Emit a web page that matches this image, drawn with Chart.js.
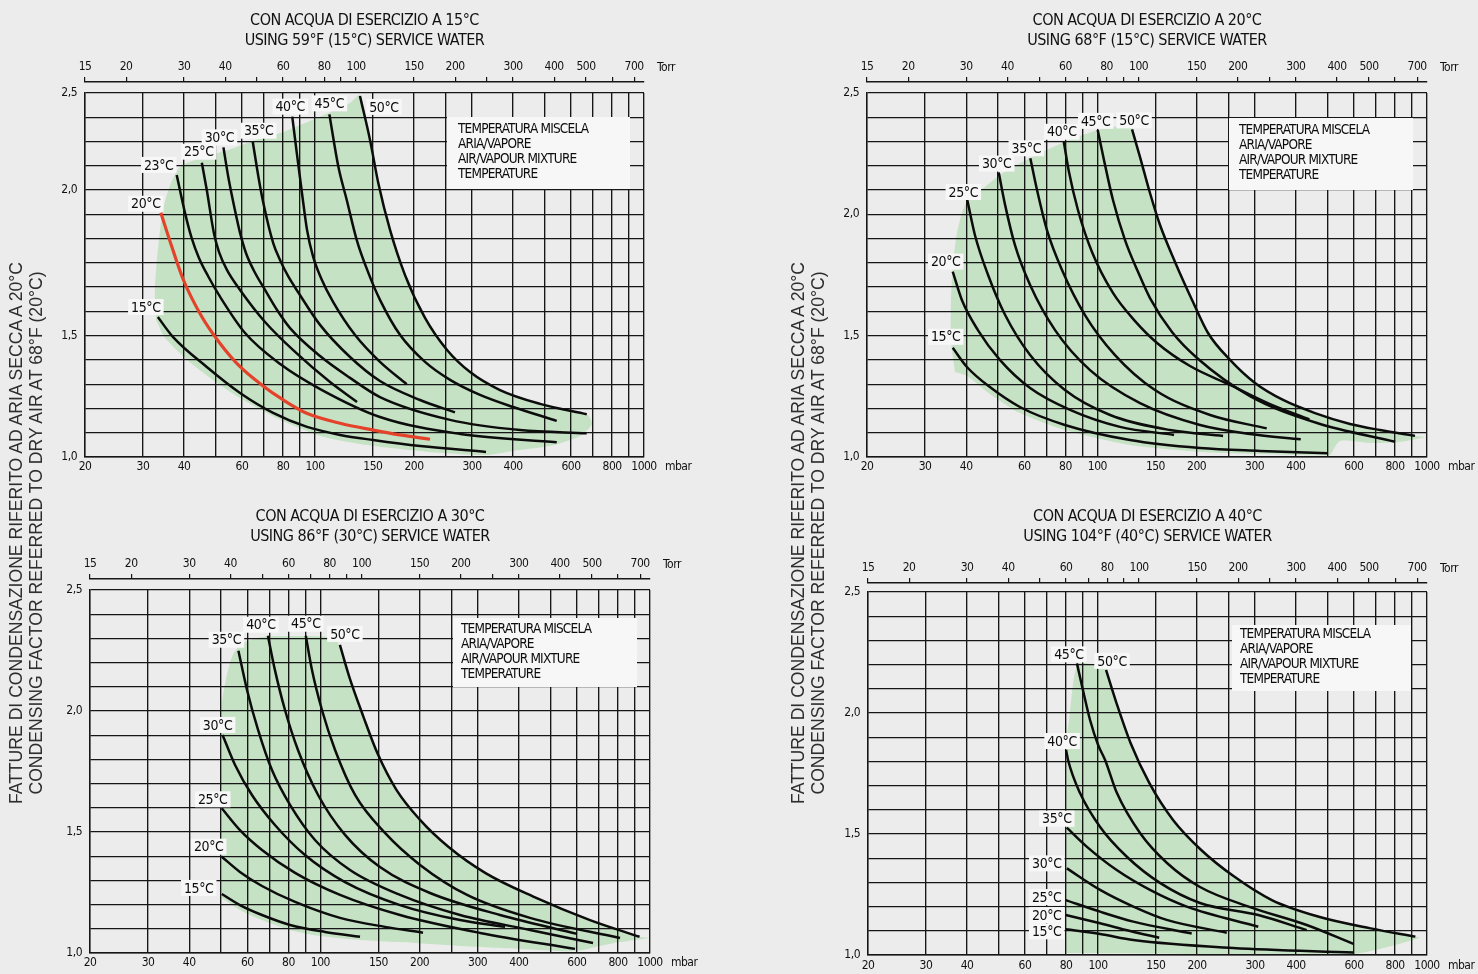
<!DOCTYPE html>
<html>
<head>
<meta charset="utf-8">
<script src="https://cdn.jsdelivr.net/npm/chart.js@4/dist/chart.umd.min.js"></script>
<style>
html,body{margin:0;padding:0;width:1478px;height:974px;overflow:hidden;background:#ececec;}
canvas{position:absolute;}
.ytitle{position:absolute;width:700px;height:40px;line-height:20px;font-size:17.6px;font-family:'Liberation Sans',Arial,sans-serif;color:#2e2e2e;text-align:center;transform:rotate(-90deg);white-space:nowrap;}
</style>
</head>
<body>
<canvas id="c1" width="740" height="490" style="left:0;top:0"></canvas>
<canvas id="c2" width="738" height="490" style="left:740px;top:0"></canvas>
<canvas id="c3" width="740" height="484" style="left:0;top:490px"></canvas>
<canvas id="c4" width="738" height="484" style="left:740px;top:490px"></canvas>
<div class="ytitle" style="left:-324px;top:513px">FATTURE DI CONDENSAZIONE RIFERITO AD ARIA SECCA A 20°C<br>CONDENSING FACTOR REFERRED TO DRY AIR AT 68°F (20°C)</div>
<div class="ytitle" style="left:458px;top:513px">FATTURE DI CONDENSAZIONE RIFERITO AD ARIA SECCA A 20°C<br>CONDENSING FACTOR REFERRED TO DRY AIR AT 68°F (20°C)</div>
<script>
// ---------------- axis / tick data ----------------
const MBAR_GRID = [20,30,40,50,60,70,80,90,100,150,200,250,300,400,500,600,700,800,900,1000];
const MBAR_LABELS = [20,30,40,60,80,100,150,200,300,400,600,800,1000];
const TORR_GRID = [15,20,30,40,50,60,70,80,90,100,150,200,250,300,400,500,600,700];
const TORR_LABELS = [15,20,30,40,60,80,100,150,200,300,400,500,700];
const MBAR_PER_TORR = 1.33322;
const Y_LABELS = [1.0,1.5,2.0,2.5];
const Y_GRID = [1.0,1.1,1.2,1.3,1.4,1.5,1.6,1.7,1.8,1.9,2.0,2.1,2.2,2.3,2.4,2.5];
const Y_GRID_P1 = [1.0,1.1,1.2,1.3,1.4,1.5,1.5833,1.6667,1.75,1.8333,1.9167,2.0,2.125,2.25,2.375,2.5];
const Y_BREAKS_P1 = [[1.0,0],[1.5,5/15],[2.0,11/15],[2.5,1]];
const Y_BREAKS = [[1.0,0],[2.5,1]];
const LEGEND_LINES = ['TEMPERATURA MISCELA','ARIA/VAPORE','AIR/VAPOUR MIXTURE','TEMPERATURE'];

const TITLE_P1 = ['CON ACQUA DI ESERCIZIO A 15°C','USING 59°F (15°C) SERVICE WATER'];
const TITLE_P2 = ['CON ACQUA DI ESERCIZIO A 20°C','USING 68°F (15°C) SERVICE WATER'];
const TITLE_P3 = ['CON ACQUA DI ESERCIZIO A 30°C','USING 86°F (30°C) SERVICE WATER'];
const TITLE_P4 = ['CON ACQUA DI ESERCIZIO A 40°C','USING 104°F (40°C) SERVICE WATER'];

const NAMES_P1 = ['15°C','20°C','23°C','25°C','30°C','35°C','40°C','45°C','50°C'];
const NAMES = ['15°C','20°C','25°C','30°C','35°C','40°C','45°C','50°C'];

// ---------------- panel 1 : service water 15°C ----------------
const P1_15 = [[33.3,1.564],[37.0,1.495],[46.9,1.371],[59.2,1.264],[74.6,1.182],[94.6,1.124],[119.3,1.091],[150.2,1.070],[208.8,1.045],[331,1.021]];
const P1_20 = [[34.0,1.922],[36.7,1.806],[39.8,1.692],[45.3,1.565],[51.4,1.469],[59.2,1.372],[68.9,1.297],[80.1,1.235],[94.4,1.180],[119.2,1.139],[150.4,1.111],[181.2,1.091],[223.7,1.073]];
const P1_23 = [[38.0,2.078],[40.3,1.920],[42.2,1.835],[44.4,1.767],[47.3,1.705],[51.5,1.633],[61.3,1.509],[78.4,1.383],[103.7,1.280],[157.6,1.165],[276.3,1.095],[543,1.061]];
const P1_25 = [[45.3,2.141],[46.9,2.000],[49.3,1.852],[51.1,1.787],[54.0,1.726],[59.2,1.657],[70.5,1.547],[87.0,1.433],[111.1,1.309],[134.2,1.227]];
const P1_30 = [[52.7,2.220],[54.5,2.069],[57.1,1.932],[59.2,1.853],[61.7,1.784],[65.3,1.722],[70.5,1.657],[76.7,1.588],[84.0,1.526],[103.6,1.416],[127.8,1.326],[157.6,1.247],[257.4,1.153],[420,1.111],[669.8,1.098]];
const P1_35 = [[64.7,2.249],[67.3,2.069],[69.7,1.955],[74.7,1.817],[78.3,1.760],[82.8,1.705],[88.8,1.650],[103.6,1.537],[127.8,1.412],[157.6,1.313],[208.6,1.235],[266.4,1.184]];
const P1_40 = [[85.3,2.378],[88.2,2.181],[91.3,1.990],[94.6,1.863],[98.6,1.773],[104.3,1.698],[113.5,1.616],[132.4,1.502],[157.6,1.392],[190,1.300]];
const P1_45 = [[110.6,2.390],[117.8,2.120],[124.9,1.966],[133.9,1.829],[144.9,1.719],[157.6,1.623],[181.5,1.502],[216.0,1.392],[257.4,1.318],[317.4,1.256],[400.0,1.206],[543,1.149]];
const P1_50 = [[137.0,2.485],[147.0,2.258],[155.8,2.035],[169.1,1.863],[187.8,1.708],[216.0,1.561],[252,1.441],[296.1,1.350],[365.0,1.276],[483.1,1.219],[669.8,1.176]];
const P1_AREA = [[32.9,1.554],[32.6,1.657],[33.3,1.794],[34.5,1.932],[36.3,2.026],[38.9,2.119],[46.0,2.170],[54.4,2.206],[66.2,2.258],[80.5,2.301],[98.0,2.361],[111.9,2.404],[127.8,2.449],[137.0,2.490],[147.0,2.258],[155.8,2.035],[169.1,1.863],[187.8,1.708],[216.0,1.561],[252,1.441],[296.1,1.350],[365.0,1.276],[483.1,1.219],[669.8,1.176],[695,1.136],[639,1.087],[518,1.046],[400,1.025],[331,1.008],[240,1.017],[181.5,1.033],[137,1.054],[103.7,1.087],[78.4,1.153],[59.2,1.243],[48.0,1.326],[40.3,1.408],[35.0,1.491],[32.9,1.554]];

// ---------------- panel 2 : service water 20°C ----------------
const P2_15 = [[36.4,1.450],[40.2,1.371],[47.2,1.288],[58.2,1.206],[79.7,1.132],[125.6,1.070],[204.8,1.037],[311.5,1.025],[500.8,1.015]];
const P2_20 = [[36.4,1.764],[38.8,1.647],[43.4,1.523],[50.6,1.400],[62.5,1.284],[82.6,1.194],[117.1,1.124],[170.8,1.091]];
const P2_25 = [[40.3,2.059],[42.5,1.915],[46.6,1.750],[52.5,1.585],[62.5,1.420],[79.7,1.276],[109.3,1.173],[166.1,1.111],[240.6,1.087]];
const P2_30 = [[50.2,2.172],[52.5,2.038],[56.2,1.874],[62.5,1.709],[74.4,1.523],[95.0,1.358],[134.7,1.222],[204.8,1.132],[290.4,1.095],[414.0,1.073]];
const P2_35 = [[62.6,2.231],[65.6,2.100],[70.3,1.935],[78.1,1.771],[91.7,1.585],[113.1,1.420],[149.5,1.276],[219.8,1.173],[326.4,1.118]];
const P2_40 = [[79.1,2.299],[82.0,2.174],[87.3,2.018],[96.3,1.845],[111.5,1.676],[130.1,1.560],[151.7,1.470],[191.0,1.375],[252.6,1.297],[334.0,1.218],[439.7,1.155]];
const P2_45 = [[100.2,2.348],[104.7,2.224],[111.5,2.059],[121.3,1.894],[132.9,1.762],[144.4,1.655],[168.4,1.515],[200.6,1.408],[290.4,1.251],[463.9,1.140],[799.8,1.063]];
const P2_50 = [[127.4,2.350],[134.7,2.236],[144.4,2.088],[154.9,1.956],[172.0,1.804],[195.0,1.639],[216.6,1.511],[252.6,1.400],[300.7,1.305],[365.9,1.235],[457.3,1.181],[584.1,1.136],[720.2,1.111],[919.6,1.087]];
const P2_AREA = [[36.98,1.350],[35.96,1.482],[35.96,1.647],[36.5,1.791],[37.5,1.923],[39.96,2.047],[45.6,2.113],[51.7,2.170],[63.3,2.236],[82.0,2.306],[100.4,2.348],[113.9,2.362],[127.4,2.356],[134.7,2.236],[144.4,2.088],[154.9,1.956],[172.0,1.804],[195.0,1.639],[216.6,1.511],[252.6,1.400],[300.7,1.305],[365.9,1.235],[457.3,1.181],[584.1,1.136],[720.2,1.111],[919.6,1.087],[986.4,1.082],[828.2,1.062],[671.6,1.058],[544.7,1.066],[515,1.020],[507.8,1.008],[411.9,1.008],[311.5,1.012],[204.8,1.021],[125.6,1.049],[79.7,1.111],[58.2,1.181],[47.2,1.260],[40.2,1.334],[36.98,1.350]];

// ---------------- panel 3 : service water 30°C ----------------
const P3_15 = [[50.2,1.244],[57.0,1.198],[66.5,1.157],[80.9,1.116],[103.3,1.087],[131.9,1.067]];
const P3_20 = [[50.2,1.398],[57.0,1.335],[66.5,1.277],[83.8,1.211],[114.7,1.145],[157.0,1.108],[204.8,1.084]];
const P3_25 = [[50.2,1.598],[57.0,1.508],[66.5,1.426],[83.8,1.331],[114.7,1.240],[174.4,1.157],[305.1,1.083],[592.2,1.017]];
const P3_30 = [[50.5,1.901],[55.1,1.777],[62.0,1.653],[72.8,1.529],[89.8,1.405],[118.8,1.293],[174.4,1.198],[265.3,1.136],[363.3,1.108]];
const P3_35 = [[56.4,2.249],[59.9,2.087],[64.7,1.922],[71.3,1.756],[80.9,1.612],[96.3,1.467],[123.0,1.343],[174.4,1.240],[265.3,1.157],[432.5,1.095],[671.6,1.041]];
const P3_40 = [[69.3,2.311],[72.8,2.169],[78.1,2.004],[85.5,1.839],[98.4,1.653],[118.8,1.488],[151.6,1.355],[215.1,1.248],[350.8,1.157],[600.6,1.079]];
const P3_45 = [[90.3,2.311],[94.3,2.169],[101.1,2.004],[110.8,1.839],[127.4,1.653],[157.0,1.496],[200.6,1.364],[278.6,1.240],[432.5,1.145],[811.0,1.062]];
const P3_50 = [[114.6,2.273],[122.3,2.142],[135.1,1.976],[149.0,1.825],[170.1,1.674],[200.6,1.550],[244.4,1.439],[318.0,1.329],[442.6,1.233],[657.6,1.136],[929.7,1.067]];
const P3_AREA = [[50.2,1.227],[50.2,2.018],[51.9,2.142],[54.5,2.238],[59.2,2.286],[67.6,2.307],[77.0,2.310],[103.7,2.307],[112.6,2.286],[122.3,2.142],[135.1,1.976],[149.0,1.825],[170.1,1.674],[200.6,1.550],[244.4,1.439],[318.0,1.329],[442.6,1.233],[657.6,1.136],[929.7,1.067],[986.4,1.062],[811.0,1.045],[705.3,1.029],[592.2,1.008],[403.4,1.017],[265.3,1.029],[174.4,1.045],[131.9,1.054],[99.8,1.070],[80.9,1.095],[66.5,1.136],[57.0,1.178],[50.2,1.227]];

// ---------------- panel 4 : service water 40°C ----------------
const P4_15 = [[79.8,1.106],[101.5,1.087],[128.1,1.062],[257.4,1.029],[597.3,1.010]];
const P4_20 = [[79.8,1.165],[101.5,1.131],[125.2,1.099],[153.5,1.071]];
const P4_25 = [[79.8,1.227],[101.5,1.179],[128.1,1.138],[192.7,1.089]];
const P4_30 = [[80.4,1.358],[101.5,1.269],[128.1,1.200],[161.7,1.145],[246.3,1.092]];
const P4_35 = [[80.4,1.526],[92.4,1.448],[114.0,1.351],[143.9,1.269],[186.1,1.200],[307.1,1.117]];
const P4_40 = [[80.0,1.847],[81.1,1.806],[88.2,1.669],[101.5,1.529],[122.6,1.405],[154.3,1.298],[204.2,1.215],[307.1,1.165],[430.9,1.103]];
const P4_45 = [[86.3,2.205],[90.0,2.095],[94.6,1.971],[100.1,1.868],[105.1,1.806],[114.2,1.669],[134.2,1.504],[162.1,1.380],[204.2,1.281],[289.8,1.198],[430.9,1.124],[597.3,1.046]];
const P4_50 = [[105.8,2.178],[113.9,2.040],[125.7,1.875],[143.3,1.710],[169.1,1.558],[205.9,1.434],[259.4,1.324],[337.6,1.227],[469.2,1.158],[674.2,1.110],[921.8,1.076]];
const P4_AREA = [[80.0,1.008],[80.0,1.723],[80.0,1.876],[81.9,1.985],[84.6,2.150],[87.5,2.205],[93.3,2.205],[102.9,2.191],[105.8,2.178],[113.9,2.040],[125.7,1.875],[143.3,1.710],[169.1,1.558],[205.9,1.434],[259.4,1.324],[337.6,1.227],[469.2,1.158],[674.2,1.110],[921.8,1.076],[952.3,1.070],[596.1,1.004],[204.2,1.004],[80.0,1.008]];

// ---------------- layout / styling (not data) ----------------
const FONT_N = "'DejaVu Sans Condensed','DejaVu Sans',sans-serif";
const GREEN = '#c6e2c4';
const GRID = '#161616';
const INK = '#0c0c0c';
const RED = '#e4432b';
const PAPER = '#f7f7f7';

const P1_LABEL_POS = [[-12,-10],[-15,-9],[-18,-10],[-3,-11],[-4,-10],[6,-11],[-2,-10],[0,-11],[24,11]];
const P2_LABEL_POS = [[-7,-11],[-7,-10],[-4,-8],[-2,-9],[-4,-10],[-2,-10],[-2,-9],[2,-9]];
const P3_LABEL_POS = [[-23,-6],[-13,-10],[-9,-9],[-5,-10],[-12,-11],[-7,-11],[0,-12],[5,-11]];
const P4_LABEL_POS = [[-19,2],[-19,0],[-19,-3],[-20,-5],[-10,-9],[-4,-9],[-8,-9],[6,-9]];

function curves(names, arrays, redIndex) {
  return names.map((n, i) => ({name: n, data: arrays[i], color: i === redIndex ? RED : INK, width: i === redIndex ? 3.2 : 2.5}));
}

const PANELS = {
  c1: {title: TITLE_P1, titleTop: 11, torrH: 42, torrShift: 11, pad: {left: 45, right: 96, top: 0, bottom: 0}, xH: 33, xPad: 3,
       yGrid: Y_GRID_P1, breaks: Y_BREAKS_P1, area: P1_AREA,
       curves: curves(NAMES_P1, [P1_15,P1_20,P1_23,P1_25,P1_30,P1_35,P1_40,P1_45,P1_50], 1), labelPos: P1_LABEL_POS,
       box: {r: 14, w: 183, t: 24, h: 72, tx: 11, ty: 12}},
  c2: {title: TITLE_P2, titleTop: 11, torrH: 42, torrShift: 11, pad: {left: 87, right: 51, top: 0, bottom: 0}, xH: 33, xPad: 3,
       yGrid: Y_GRID, breaks: Y_BREAKS, area: P2_AREA,
       curves: curves(NAMES, [P2_15,P2_20,P2_25,P2_30,P2_35,P2_40,P2_45,P2_50], -1), labelPos: P2_LABEL_POS,
       box: {r: 14, w: 184, t: 25, h: 72, tx: 10, ty: 12}},
  c3: {title: TITLE_P3, titleTop: 17, torrH: 43, torrShift: 11, pad: {left: 50, right: 90, top: 0, bottom: 0}, xH: 21, xPad: 3,
       yGrid: Y_GRID, breaks: Y_BREAKS, area: P3_AREA,
       curves: curves(NAMES, [P3_15,P3_20,P3_25,P3_30,P3_35,P3_40,P3_45,P3_50], -1), labelPos: P3_LABEL_POS,
       box: {r: 13, w: 184, t: 28, h: 69, tx: 8, ty: 11}},
  c4: {title: TITLE_P4, titleTop: 17, torrH: 45, torrShift: 9, pad: {left: 88, right: 51, top: 0, bottom: 0}, xH: 19, xPad: 4,
       yGrid: Y_GRID, breaks: Y_BREAKS, area: P4_AREA,
       curves: curves(NAMES, [P4_15,P4_20,P4_25,P4_30,P4_35,P4_40,P4_45,P4_50], -1), labelPos: P4_LABEL_POS,
       box: {r: 16, w: 179, t: 33, h: 66, tx: 8, ty: 9}}
};

// ---------------- piecewise-linear value axis ----------------
function pieceFrac(v, br) {
  for (let i = 1; i < br.length; i++) {
    if (v <= br[i][0] || i === br.length - 1) {
      const [v0, f0] = br[i - 1], [v1, f1] = br[i];
      return f0 + (v - v0) / (v1 - v0) * (f1 - f0);
    }
  }
  return 0;
}
function pieceInv(f, br) {
  for (let i = 1; i < br.length; i++) {
    if (f <= br[i][1] || i === br.length - 1) {
      const [v0, f0] = br[i - 1], [v1, f1] = br[i];
      return v0 + (f - f0) / (f1 - f0) * (v1 - v0);
    }
  }
  return 0;
}
class PiecewiseScale extends Chart.LinearScale {
  getPixelForValue(value) {
    if (value === null || value === undefined || isNaN(value)) return NaN;
    return this.getPixelForDecimal(pieceFrac(value, PANELS[this.chart.canvas.id].breaks));
  }
  getValueForPixel(pixel) {
    return pieceInv(this.getDecimalForPixel(pixel), PANELS[this.chart.canvas.id].breaks);
  }
}
PiecewiseScale.id = 'piecewise';
PiecewiseScale.defaults = {};
Chart.register(PiecewiseScale);

// ---------------- decorations plugin ----------------
function spaced(ctx, px) { if ('letterSpacing' in ctx) ctx.letterSpacing = px + 'px'; }
const decor = {
  id: 'decor',
  afterLayout(chart) {
    const p = PANELS[chart.canvas.id];
    const t = chart.scales.t;
    t.bottom -= p.torrShift;
    t._gridLineItems = null;
    t._labelItems = null;
  },
  beforeDraw(chart) {
    spaced(chart.ctx, -0.5);
  },
  afterDatasetsDraw(chart) {
    const p = PANELS[chart.canvas.id];
    const ctx = chart.ctx, xs = chart.scales.x, ys = chart.scales.y, ts = chart.scales.t, ca = chart.chartArea;
    ctx.save();
    ctx.textBaseline = 'middle';
    // curve labels
    ctx.font = '14px ' + FONT_N;
    spaced(ctx, -0.4);
    ctx.textAlign = 'center';
    p.curves.forEach((c, i) => {
      const cx = xs.getPixelForValue(c.data[0][0]) + p.labelPos[i][0];
      const cy = ys.getPixelForValue(c.data[0][1]) + p.labelPos[i][1];
      const w = ctx.measureText(c.name).width;
      ctx.fillStyle = PAPER;
      ctx.fillRect(cx - w / 2 - 3, cy - 8, w + 6, 16);
      ctx.fillStyle = INK;
      ctx.fillText(c.name, cx, cy + 1);
    });
    // legend box
    const b = p.box;
    const bx = ca.right - b.r - b.w, by = ca.top + b.t;
    ctx.fillStyle = PAPER;
    ctx.fillRect(bx, by, b.w, b.h);
    ctx.fillStyle = INK;
    ctx.textAlign = 'left';
    ctx.font = '13.5px ' + FONT_N;
    spaced(ctx, -0.8);
    LEGEND_LINES.forEach((s, k) => ctx.fillText(s, bx + b.tx, by + b.ty + k * 15));
    // unit labels
    ctx.font = '12px ' + FONT_N;
    spaced(ctx, -0.5);
    ctx.fillStyle = '#111';
    ctx.fillText('Torr', ca.right + 13, ts.bottom - 7 - 7);
    ctx.fillText('mbar', ca.right + 21, xs.top + p.xPad + 7);
    ctx.restore();
  }
};

function makePanel(id) {
  const p = PANELS[id];
  const datasets = p.curves.map(c => ({
    label: c.name, data: c.data, xAxisID: 'x', yAxisID: 'y',
    borderColor: c.color, borderWidth: c.width, pointRadius: 0, fill: false,
    cubicInterpolationMode: 'monotone', order: 1
  }));
  datasets.push({
    label: 'range', data: p.area, xAxisID: 'x', yAxisID: 'y',
    borderColor: 'rgba(0,0,0,0)', borderWidth: 0, backgroundColor: GREEN,
    pointRadius: 0, fill: 'shape', tension: 0.25, order: 10
  });
  const tickFont = {family: FONT_N, size: 12};
  new Chart(document.getElementById(id), {
    type: 'line',
    data: {datasets},
    plugins: [decor],
    options: {
      responsive: false, animation: false, devicePixelRatio: 1, events: [],
      layout: {padding: p.pad},
      plugins: {
        legend: {display: false}, tooltip: {enabled: false},
        filler: {drawTime: 'beforeDraw'},
        title: {display: true, text: p.title, fullSize: false, color: '#111',
                font: {family: FONT_N, size: 16, weight: 'normal', lineHeight: 20 / 16},
                padding: {top: p.titleTop, bottom: 0}}
      },
      scales: {
        x: {type: 'logarithmic', axis: 'x', position: 'bottom', min: 20, max: 1000,
            afterBuildTicks: s => { s.ticks = MBAR_GRID.map(v => ({value: v})); },
            afterFit: s => { s.height = p.xH; },
            ticks: {autoSkip: false, maxRotation: 0, minRotation: 0, padding: p.xPad, color: '#111', font: tickFont,
                    callback: v => MBAR_LABELS.includes(v) ? String(v) : ''},
            grid: {color: GRID, lineWidth: 1.35, drawTicks: false},
            border: {display: true, color: GRID, width: 1.4}},
        t: {type: 'logarithmic', axis: 'x', position: 'top', min: 15, max: 1000 / MBAR_PER_TORR,
            afterBuildTicks: s => { s.ticks = TORR_GRID.map(v => ({value: v})); },
            afterFit: s => { s.height = p.torrH; },
            ticks: {autoSkip: false, maxRotation: 0, minRotation: 0, padding: 3, color: '#111', font: tickFont,
                    callback: v => TORR_LABELS.includes(v) ? String(v) : ''},
            grid: {drawOnChartArea: false, tickLength: 5, color: GRID, lineWidth: 1.2},
            border: {display: true, color: GRID, width: 1.5}},
        y: {type: 'piecewise', axis: 'y', position: 'left', min: 1.0, max: 2.5,
            afterBuildTicks: s => { s.ticks = p.yGrid.map(v => ({value: v})); },
            afterFit: s => { s.width = 40; },
            ticks: {autoSkip: false, padding: 8, color: '#111', font: tickFont,
                    callback: v => Y_LABELS.includes(v) ? v.toFixed(1).replace('.', ',') : ''},
            grid: {color: GRID, lineWidth: 1.35, drawTicks: false},
            border: {display: true, color: GRID, width: 1.4}}
      }
    }
  });
}
['c1','c2','c3','c4'].forEach(makePanel);
</script>
</body>
</html>
